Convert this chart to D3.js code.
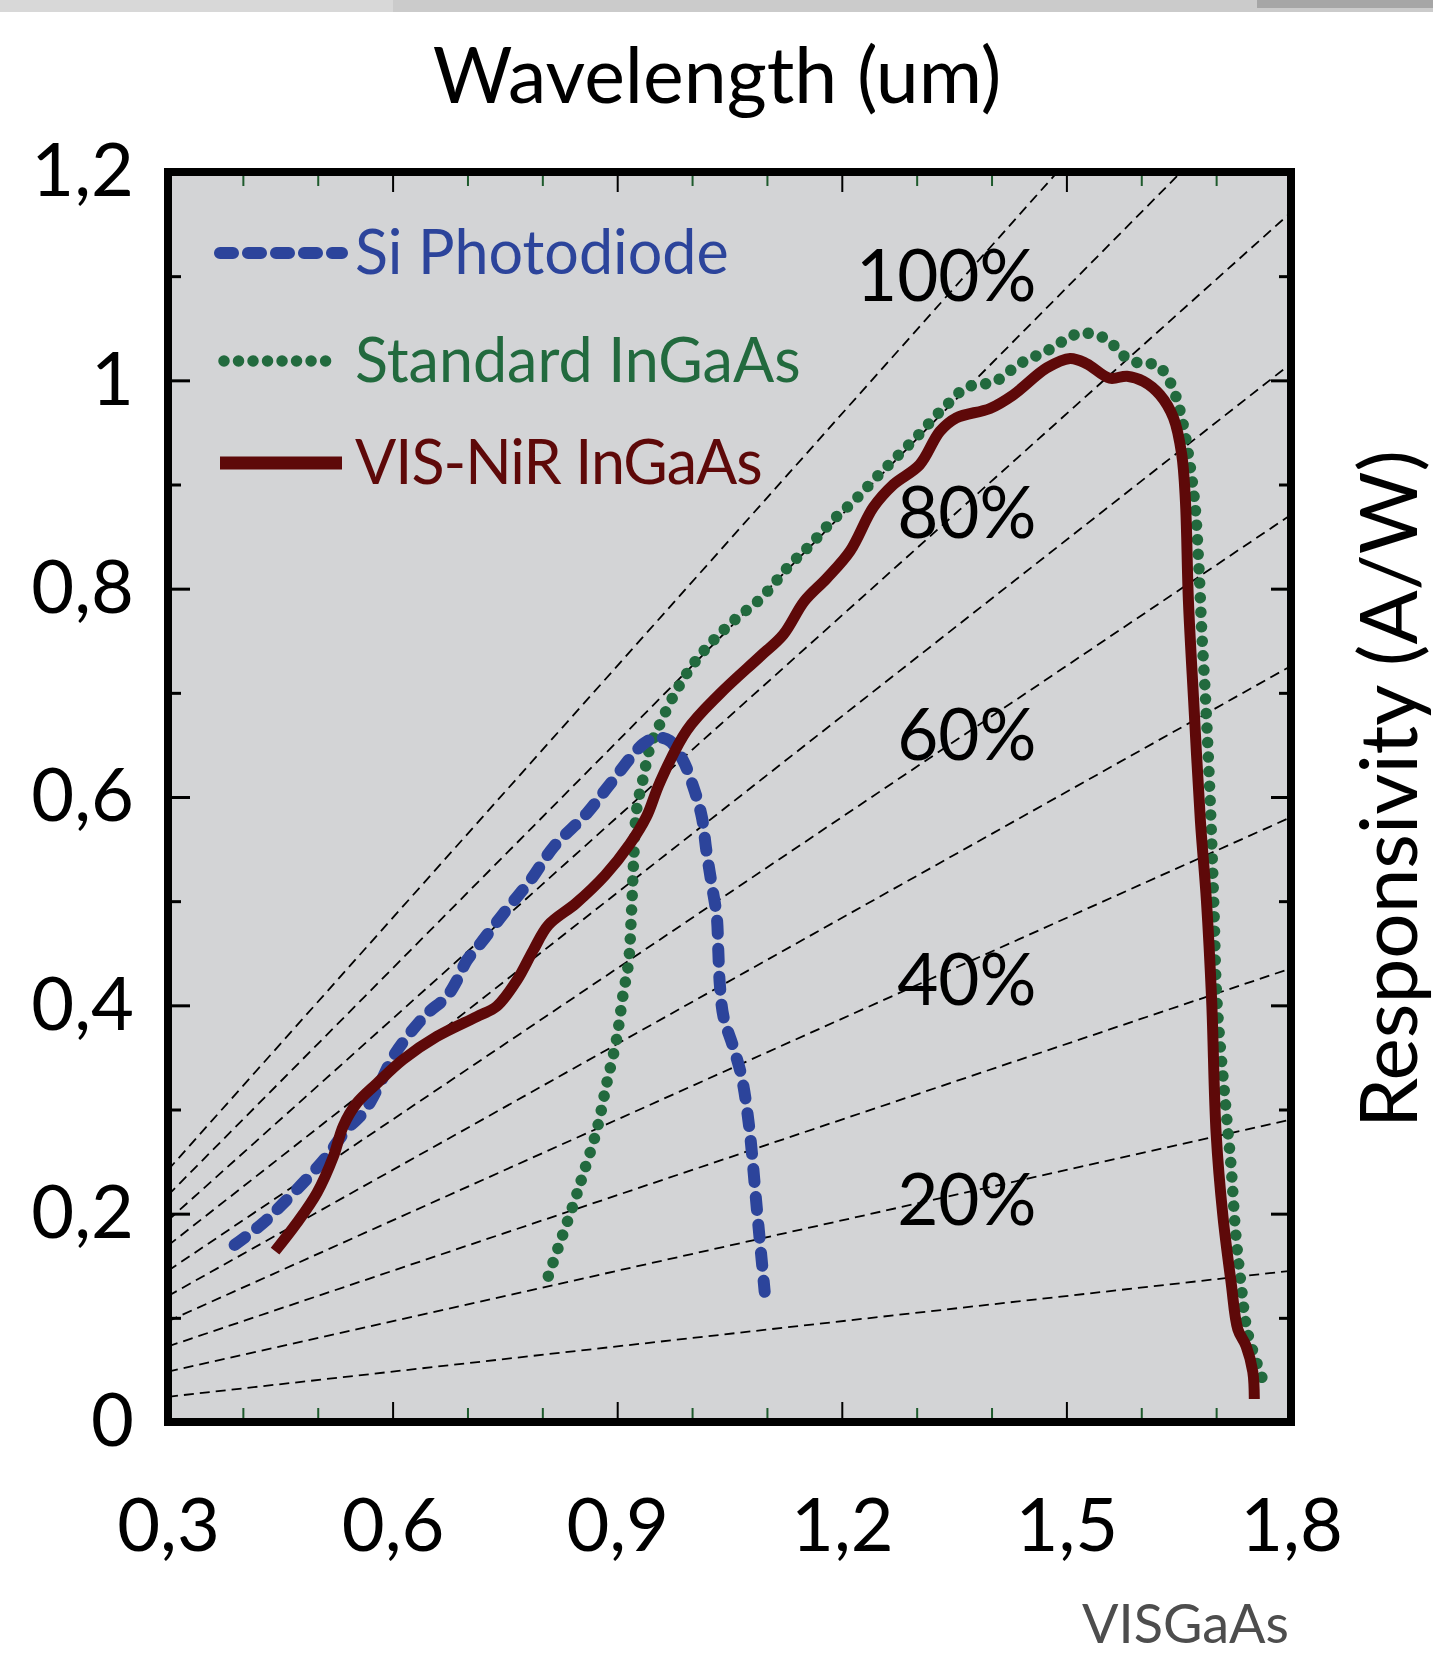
<!DOCTYPE html>
<html>
<head>
<meta charset="utf-8">
<script src="https://cdn.jsdelivr.net/npm/d3@7"></script>
<style>
  body { margin: 0; background: #fff; }
  svg { display: block; font-family: Lato, "Open Sans", sans-serif; }
</style>
</head>
<body>
<svg id="chart" width="1433" height="1655"></svg>
<script>
// [wavelength (um), responsivity (A/W)]
const siPhotodiode = [
  [0.389, 0.170], [0.427, 0.191], [0.454, 0.210], [0.485, 0.233], [0.512, 0.255],
  [0.539, 0.281], [0.561, 0.297], [0.579, 0.319], [0.601, 0.351], [0.623, 0.373],
  [0.646, 0.392], [0.672, 0.408], [0.686, 0.424], [0.699, 0.443], [0.717, 0.459],
  [0.748, 0.488], [0.784, 0.520], [0.815, 0.552], [0.859, 0.584], [0.890, 0.612],
  [0.935, 0.651], [0.953, 0.657], [0.970, 0.654], [0.988, 0.635], [1.002, 0.609],
  [1.013, 0.581], [1.019, 0.549], [1.026, 0.517], [1.033, 0.485], [1.035, 0.453],
  [1.037, 0.421], [1.042, 0.389], [1.055, 0.360], [1.066, 0.332], [1.076, 0.285],
  [1.087, 0.201], [1.097, 0.125]
];

const standardInGaAs = [
  [0.808, 0.140], [0.822, 0.169], [0.842, 0.210], [0.855, 0.239], [0.873, 0.281],
  [0.886, 0.325], [0.899, 0.367], [0.908, 0.411], [0.915, 0.440], [0.919, 0.488],
  [0.922, 0.540], [0.926, 0.588], [0.935, 0.619], [0.944, 0.648], [0.957, 0.670],
  [0.979, 0.702], [1.002, 0.728], [1.028, 0.750], [1.060, 0.772], [1.091, 0.790],
  [1.131, 0.823], [1.158, 0.842], [1.187, 0.865], [1.216, 0.884], [1.245, 0.906],
  [1.274, 0.927], [1.303, 0.948], [1.331, 0.970], [1.347, 0.981], [1.365, 0.993],
  [1.385, 0.996], [1.405, 0.999], [1.438, 1.016], [1.476, 1.029], [1.512, 1.044],
  [1.532, 1.045], [1.552, 1.040], [1.567, 1.031], [1.581, 1.021], [1.601, 1.016],
  [1.621, 1.015], [1.634, 1.004], [1.643, 0.991], [1.654, 0.964], [1.665, 0.919],
  [1.672, 0.878], [1.677, 0.820], [1.681, 0.756], [1.686, 0.692], [1.692, 0.597],
  [1.697, 0.494], [1.701, 0.405], [1.714, 0.293], [1.720, 0.245], [1.726, 0.182],
  [1.733, 0.134], [1.742, 0.086], [1.762, 0.041]
];

const visNirInGaAs = [
  [0.443, 0.164], [0.472, 0.191], [0.499, 0.220], [0.521, 0.255], [0.534, 0.284],
  [0.552, 0.306], [0.579, 0.325], [0.614, 0.348], [0.659, 0.370], [0.712, 0.389],
  [0.739, 0.399], [0.766, 0.424], [0.788, 0.453], [0.808, 0.477], [0.845, 0.498],
  [0.884, 0.525], [0.917, 0.555], [0.939, 0.581], [0.957, 0.614], [0.993, 0.664],
  [1.037, 0.699], [1.091, 0.735], [1.122, 0.756], [1.150, 0.788], [1.180, 0.810],
  [1.211, 0.836], [1.242, 0.878], [1.269, 0.900], [1.304, 0.919], [1.331, 0.951],
  [1.353, 0.964], [1.398, 0.973], [1.429, 0.986], [1.474, 1.012], [1.505, 1.021],
  [1.527, 1.016], [1.558, 1.002], [1.581, 1.004], [1.603, 0.999], [1.625, 0.986],
  [1.643, 0.964], [1.654, 0.929], [1.659, 0.884], [1.663, 0.788], [1.670, 0.692],
  [1.679, 0.577], [1.687, 0.501], [1.694, 0.405], [1.700, 0.277], [1.709, 0.198],
  [1.720, 0.134], [1.729, 0.089], [1.740, 0.073], [1.749, 0.048], [1.751, 0.022]
];

const seriesNames = ['Si Photodiode', 'Standard InGaAs', 'VIS-NiR InGaAs'];

const xTicks = [0.3, 0.6, 0.9, 1.2, 1.5, 1.8];
const xMinorTicks = [0.4, 0.5, 0.7, 0.8, 1.0, 1.1, 1.3, 1.4, 1.6, 1.7];
const yTicks = [0, 0.2, 0.4, 0.6, 0.8, 1, 1.2];
const yMinorTicks = [0.1, 0.3, 0.5, 0.7, 0.9, 1.1];

// quantum efficiency guide lines, R = QE * lambda / 1.24
const qeLevels = [0.1, 0.2, 0.3, 0.4, 0.5, 0.6, 0.7, 0.8, 0.9, 1.0];
const qeLabels = ['100%', '80%', '60%', '40%', '20%'];
const qeLabelAnchors = [[1.46, 1.076], [1.46, 0.849], [1.46, 0.636], [1.46, 0.400], [1.46, 0.189]];

const plotLeft = 168, plotRight = 1291, plotTop = 172, plotBottom = 1422;
const bigFont = 74;

const svg = d3.select('#chart');

// grey strip along the top of the screenshot
svg.append('rect').attr('x', 0).attr('y', 0).attr('width', 1433).attr('height', 12).attr('fill', '#cbcbcb');
svg.append('rect').attr('x', 0).attr('y', 0).attr('width', 393).attr('height', 12).attr('fill', '#d8d8d8');
svg.append('rect').attr('x', 1257).attr('y', 0).attr('width', 176).attr('height', 8).attr('fill', '#a6a6a6');

const x = d3.scaleLinear().domain([0.3, 1.8]).range([plotLeft, plotRight]);
const y = d3.scaleLinear().domain([0, 1.2]).range([plotBottom, plotTop]);

const fmt = d3.formatLocale({decimal: ',', thousands: '.', grouping: [3], currency: ['', '']}).format('~g');

svg.append('rect')
  .attr('x', plotLeft).attr('y', plotTop)
  .attr('width', plotRight - plotLeft).attr('height', plotBottom - plotTop)
  .attr('fill', '#d3d4d6');

svg.append('defs').append('clipPath').attr('id', 'plot-clip')
  .append('rect')
  .attr('x', plotLeft).attr('y', plotTop)
  .attr('width', plotRight - plotLeft).attr('height', plotBottom - plotTop);

// QE guide lines
var qeLine = d3.line()
  .x(function(d) { return x(d[0]); })
  .y(function(d) { return y(d[1]); });

svg.append('g').attr('clip-path', 'url(#plot-clip)')
  .selectAll('path')
  .data(qeLevels)
  .join('path')
  .attr('d', function(q) {
    return qeLine(x.domain().map(function(l) { return [l, q * l / 1.24]; }));
  })
  .attr('fill', 'none')
  .attr('stroke', '#000')
  .attr('stroke-width', 1.8)
  .attr('stroke-dasharray', '10 6');

svg.append('g').selectAll('text')
  .data(qeLabels)
  .join('text')
  .attr('x', function(d, i) { return x(qeLabelAnchors[i][0]); })
  .attr('y', function(d, i) { return y(qeLabelAnchors[i][1]); })
  .attr('text-anchor', 'end')
  .style('font-size', '71px')
  .attr('fill', '#000')
  .text(function(d) { return d; });

// curves
const styles = [
  {color: '#2c449b', width: 12, dash: '13 15', data: siPhotodiode},
  {color: '#226a3e', width: 11.5, dash: '0.01 14.5', data: standardInGaAs},
  {color: '#5e0909', width: 11, dash: null, data: visNirInGaAs}
];

var curve = d3.line()
  .x(function(d) { return x(d[0]); })
  .y(function(d) { return y(d[1]); })
  .curve(d3.curveCatmullRom.alpha(0.5));

// draw order: green dots first, then blue, red on top
[1, 0, 2].forEach(function(i) {
  var s = styles[i];
  svg.append('path')
    .attr('d', curve(s.data))
    .attr('fill', 'none')
    .attr('stroke', s.color)
    .attr('stroke-width', s.width)
    .attr('stroke-linecap', s.dash ? 'round' : 'butt')
    .attr('stroke-linejoin', 'round')
    .attr('stroke-dasharray', s.dash);
});

// axes: ticks point inwards on all four sides, labels only bottom/left
function styleAxis(g, color, width) {
  g.select('.domain').remove();
  g.selectAll('.tick line').attr('stroke', color).attr('stroke-width', width);
  g.selectAll('.tick text').attr('fill', '#000').style('font-size', bigFont + 'px')
    .style('font-family', 'Lato, "Open Sans", sans-serif');
}

svg.append('g').attr('transform', 'translate(0,' + plotBottom + ')')
  .call(d3.axisBottom(x).tickValues(xMinorTicks).tickSize(-14).tickFormat(''))
  .call(styleAxis, '#1d5a2c', 2);
svg.append('g').attr('transform', 'translate(0,' + plotTop + ')')
  .call(d3.axisTop(x).tickValues(xMinorTicks).tickSize(-14).tickFormat(''))
  .call(styleAxis, '#1d5a2c', 2);
svg.append('g').attr('transform', 'translate(0,' + plotBottom + ')')
  .call(d3.axisBottom(x).tickValues(xTicks).tickSize(-20).tickPadding(76).tickFormat(fmt))
  .call(styleAxis, '#000', 2);
svg.append('g').attr('transform', 'translate(0,' + plotTop + ')')
  .call(d3.axisTop(x).tickValues(xTicks).tickSize(-20).tickFormat(''))
  .call(styleAxis, '#000', 2);

svg.append('g').attr('transform', 'translate(' + plotLeft + ',0)')
  .call(d3.axisLeft(y).tickValues(yMinorTicks).tickSize(-13).tickFormat(''))
  .call(styleAxis, '#000', 3);
svg.append('g').attr('transform', 'translate(' + plotRight + ',0)')
  .call(d3.axisRight(y).tickValues(yMinorTicks).tickSize(-12).tickFormat(''))
  .call(styleAxis, '#000', 3);
svg.append('g').attr('transform', 'translate(' + plotLeft + ',0)')
  .call(d3.axisLeft(y).tickValues(yTicks).tickSize(-22).tickPadding(34).tickFormat(fmt))
  .call(styleAxis, '#000', 3);
svg.append('g').attr('transform', 'translate(' + plotRight + ',0)')
  .call(d3.axisRight(y).tickValues(yTicks).tickSize(-20).tickFormat(''))
  .call(styleAxis, '#000', 3);

// frame
svg.append('rect')
  .attr('x', plotLeft).attr('y', plotTop)
  .attr('width', plotRight - plotLeft).attr('height', plotBottom - plotTop)
  .attr('fill', 'none')
  .attr('stroke', '#000')
  .attr('stroke-width', 8);

// legend
var legend = svg.append('g');
var legendRows = [253, 361, 463];
styles.forEach(function(s, i) {
  legend.append('line')
    .attr('x1', i === 1 ? 224 : 220).attr('x2', i === 1 ? 336 : 342)
    .attr('y1', legendRows[i]).attr('y2', legendRows[i])
    .attr('stroke', s.color)
    .attr('stroke-width', i === 2 ? 13 : s.width)
    .attr('stroke-linecap', s.dash ? 'round' : 'butt')
    .attr('stroke-dasharray', s.dash);
  legend.append('text')
    .attr('x', 355)
    .attr('y', legendRows[i] + 21)
    .attr('fill', s.color)
    .style('font-size', '61px')
    .style('letter-spacing', i === 2 ? '-1px' : '0px')
    .text(seriesNames[i]);
});

// titles
svg.append('text')
  .attr('x', 717).attr('y', 103)
  .attr('text-anchor', 'middle')
  .style('font-size', '77px')
  .attr('fill', '#000')
  .text('Wavelength (um)');

svg.append('text')
  .attr('transform', 'translate(1417,789) rotate(-90)')
  .attr('text-anchor', 'middle')
  .style('font-size', '80px')
  .attr('fill', '#000')
  .text('Responsivity (A/W)');

svg.append('text')
  .attr('x', 1289).attr('y', 1643)
  .attr('text-anchor', 'end')
  .style('font-size', '54px')
  .attr('fill', '#4d4d4d')
  .text('VISGaAs');
</script>
</body>
</html>
